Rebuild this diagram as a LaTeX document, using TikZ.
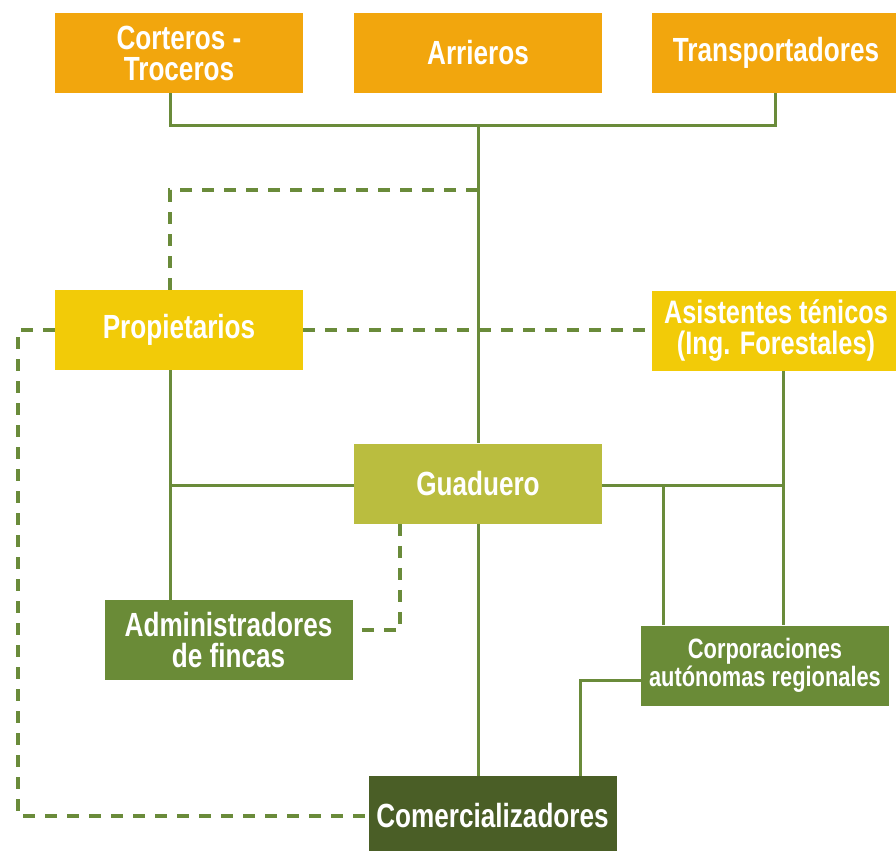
\documentclass[tikz,border=0pt]{standalone}
\usepackage{fontspec}
\setmainfont[FakeStretch=0.78]{Liberation Sans}
\usepackage{tikz}
\definecolor{naranja}{HTML}{F2A60D}
\definecolor{amarillo}{HTML}{F2CB08}
\definecolor{oliva}{HTML}{BABD3F}
\definecolor{verde}{HTML}{6A8B37}
\definecolor{verdeosc}{HTML}{4A5E26}
\definecolor{linea}{HTML}{6A8B3A}

\begin{document}
\begin{tikzpicture}[x=0.5pt, y=-0.5pt,
		every node/.style = {shape=rectangle, inner sep=0pt, align=center, text=white,
	minimum width=124pt, minimum height=40pt, font=\bfseries\fontsize{16.75}{15.5}\selectfont},
		enlace/.style={draw=linea, line width=1.5pt},
		punteado/.style={draw=linea, line width=2pt, dash pattern=on 6pt off 5pt}]
			\useasboundingbox (0,0) rectangle (896,851);
			\node[fill=naranja] (corteros) at (179,53) {Corteros -\\Troceros};
			\node[fill=naranja] (arrieros) at (478,53) {Arrieros};
			\node[fill=naranja] (transportadores) at (776,53) {Transportadores};
			\node[fill=amarillo] (propietarios) at (179,330) {Propietarios};
			\node[fill=amarillo, font=\bfseries\fontsize{16.25}{15.5}\selectfont] (asistentes) at (776,331) {Asistentes ténicos\\(Ing. Forestales)};
			\node[fill=oliva] (guaduero) at (478,483.5) {Guaduero};
			\node[fill=verde] (administradores) at (228.5,640) {Administradores\\de fincas};
			\node[fill=verde, font=\bfseries\fontsize{14}{12.5}\selectfont] (corporaciones) at (765,665.5) {Corporaciones\\autónomas regionales};
			\node[fill=verdeosc] (comercializadores) at (492.5,816) {Comercializadores};
			\coordinate (bus) at (478,125);
			\coordinate (cruce) at (478,190);
			\coordinate (izq) at (18,330);
			\draw[enlace] ([xshift=-4.5pt]corteros.south) |- (bus) -| ([xshift=-0.5pt]transportadores.south);
			\draw[enlace] (bus) -- (guaduero.north);
			\draw[punteado] (cruce) -| ([xshift=-4.5pt]propietarios.north);
			\draw[punteado] (propietarios.east) -- ([yshift=0.5pt]asistentes.west);
			\draw[punteado] (propietarios.west) -- (izq) |- (comercializadores.west);
			\draw[enlace] ([xshift=-4.5pt]propietarios.south) -- ([xshift=-4.5pt]propietarios.south |- administradores.north);
			\draw[enlace] ([yshift=-0.75pt]guaduero.west) -- ([xshift=-4.5pt,yshift=-0.75pt]propietarios.south |- guaduero.west);
			\draw[enlace] ([yshift=-0.75pt]guaduero.east) -- ([xshift=3.5pt,yshift=-0.75pt]asistentes.south |- guaduero.east);
			\draw[enlace] ([xshift=3.5pt]asistentes.south) -- ([xshift=3.5pt]asistentes.south |- corporaciones.north);
			\draw[enlace] ([xshift=-51pt]corporaciones.north) -- ([xshift=-51pt,yshift=-0.75pt]corporaciones.north |- guaduero.east);
			\draw[enlace] (guaduero.south) -- (guaduero.south |- comercializadores.north);
			\draw[enlace] ([yshift=-7.25pt]corporaciones.west) -| ([xshift=43.75pt]comercializadores.north);
			\draw[punteado] ([xshift=-39pt]guaduero.south) |- ([yshift=5pt]administradores.east);
		\end{tikzpicture}
\end{document}
